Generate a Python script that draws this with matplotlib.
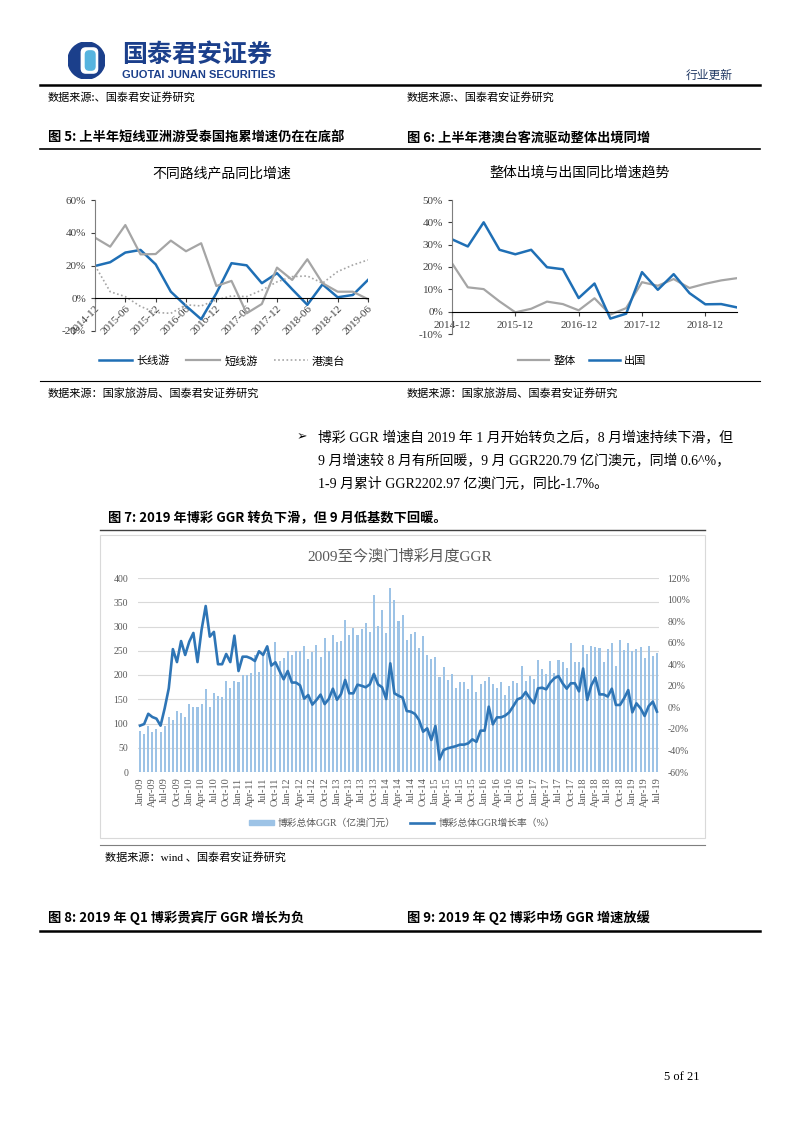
import matplotlib
matplotlib.use('Agg')
import matplotlib.pyplot as plt
import numpy as np
import pandas as pd
from matplotlib.lines import Line2D
from matplotlib.patches import Rectangle, Wedge, Patch, FancyBboxPatch

W, H = 802, 1133
SERIF = ['Liberation Serif', 'Noto Sans CJK SC']
CJK = ['Noto Sans CJK SC', 'DejaVu Sans']
plt.rcParams['font.family'] = SERIF

# ---- figure 5 data (quarterly yoy, %) ----
quarters5 = ['2014-12', '2015-03', '2015-06', '2015-09', '2015-12', '2016-03', '2016-06', '2016-09',
             '2016-12', '2017-03', '2017-06', '2017-09', '2017-12', '2018-03', '2018-06', '2018-09',
             '2018-12', '2019-03', '2019-06']
long_trip = [19.7, 22, 27.9, 29.5, 20.7, 4, -4.7, -12.8, 3, 21.4, 20.1, 9.2, 15.3, 5.5, -4, 8.5, 0.6, 2, 11.2]
short_trip = [37, 31.5, 44.7, 26.8, 27, 35.2, 28.7, 33.6, 7.5, 10.6, -9.2, -3.5, 18.7, 11.2, 23.8, 9.2, 4, 4, -0.6]
hk_macau_tw = [20, 4, 1, -5, -8.7, -9.2, -4, -4.7, -1, 1.4, 1, 5, 10, 13.2, 13.6, 9.2, 16.3, 20.3, 23.4]

# ---- figure 6 data (quarterly yoy, %) ----
quarters6 = quarters5
total_out = [21.7, 10.9, 10.1, 4.6, -0.3, 1.3, 4.5, 3.4, 0.6, 6, -1.3, 1.6, 13.2, 11.6, 14.6, 10.6, 12.5, 14, 15]
abroad = [32.4, 29.2, 40, 27.7, 25.7, 27.7, 19.9, 19, 6.1, 12.6, -3.1, -0.9, 17.7, 9.8, 16.8, 8.3, 3.3, 3.4, 1.9]

# ---- figure 7 data: monthly GGR (100m MOP) and yoy growth (%) ----
months7 = pd.date_range('2009-01-01', '2019-07-01', freq='MS').strftime('%b-%y').tolist()
ggr = [85, 79, 95, 83, 89, 82, 95, 113, 108, 126, 122, 113,
       140, 135, 135, 141, 172, 135, 163, 157, 154, 188, 174, 188,
       185, 199, 200, 204, 242, 207, 240, 245, 224, 268, 229, 235,
       250, 242, 250, 250, 260, 233, 247, 261, 238, 277, 249, 282,
       268, 271, 314, 282, 296, 282, 295, 307, 289, 365, 302, 335,
       287, 380, 354, 312, 323, 273, 284, 289, 256, 280, 242, 233,
       237, 195, 216, 190, 203, 173, 186, 185, 171, 200, 164, 182,
       188, 195, 181, 174, 185, 159, 178, 188, 183, 218, 188, 198,
       192, 230, 213, 202, 228, 205, 231, 226, 214, 267, 227, 227,
       262, 243, 259, 257, 255, 226, 253, 265, 219, 273, 251, 266,
       250, 254, 258, 236, 260, 239, 245]
growth = [-17, -15.5, -6, -9, -10.5, -17, -1, 17.6, 54, 42, 61.5, 48.6,
          61, 69, 42, 72, 94, 65.6, 70, 40, 40, 49.5, 42, 66.5,
          33.7, 47, 47, 45.5, 43, 52, 48.6, 56.6, 38.7, 41.8, 33.7, 26,
          33.7, 23, 23, 20.4, 8, 11.4, 2.5, 6.8, 11.8, 3, 7.7, 17.3,
          7, 12.4, 25.4, 13, 13, 21, 20, 18.6, 21.3, 31, 21.3, 18.6,
          7.7, 40.8, 13, 10.8, 9, -3.4, -4, -6.1, -11.7, -22.6, -19.5, -30.3,
          -17.3, -48.3, -39.6, -38, -37, -36, -34.6, -34.6, -33.4, -29.7, -32, -21.6,
          -21.6, 0.6, -15.8, -9.3, -9.3, -7.7, -4.6, 1.2, 7.4, 9, 14.2, 8.4,
          3.7, 17.6, 18.2, 16.7, 23, 27, 29, 22.3, 17.3, 22.3, 22.3, 14.8,
          36, 6.8, 20.4, 27.5, 12, 12, 10, 17.3, 2.2, 2.2, 8.4, 16,
          -4.6, 3.7, -0.9, -8, 1.2, 5.3, -4]

BLUE = '#1f6fb5'
GRAY = '#a5a5a5'
NAVY = '#1b3f8b'


def fx(x):
    return x / W


def fy(y):
    return 1 - y / H


def ftext(x, y, s, **kw):
    return fig.text(fx(x), fy(y), s, **kw)


def hline(y, x0, x1, lw=1.0, color='black'):
    fig.add_artist(Line2D([fx(x0), fx(x1)], [fy(y), fy(y)], lw=lw, color=color,
                          transform=fig.transFigure))


def style_line_axes(ax):
    for s in ['top', 'right']:
        ax.spines[s].set_visible(False)
    ax.spines['bottom'].set_position(('data', 0))
    ax.spines['bottom'].set_color('black')
    ax.spines['left'].set_color('#7f7f7f')
    ax.tick_params(axis='both', labelsize=8, colors='#404040', length=3, width=0.8)
    ax.patch.set_alpha(0)


fig = plt.figure(figsize=(W / 100, H / 100), dpi=100)

# ---- header ----
ax_logo = fig.add_axes([fx(68), fy(79), 37 / W, 37 / H])
ax_logo.set_xlim(0, 1)
ax_logo.set_ylim(0, 1)
ax_logo.axis('off')
ax_logo.add_patch(Wedge((0.5, 0.5), 0.5, 0, 360, color=NAVY))
ax_logo.add_patch(FancyBboxPatch((0.36, 0.16), 0.44, 0.68, boxstyle='round,pad=0,rounding_size=0.12',
                                 color='white'))
ax_logo.add_patch(FancyBboxPatch((0.47, 0.24), 0.26, 0.52, boxstyle='round,pad=0,rounding_size=0.1',
                                 color='#56b4df'))

ftext(122, 55, '国泰君安证券', family=CJK, fontsize=18, fontweight='bold', color=NAVY, va='center')
ftext(122, 75, 'GUOTAI JUNAN SECURITIES', family=['Liberation Sans'], fontsize=8, fontweight='bold',
      color=NAVY, va='center')
ftext(733, 75, '行业更新', family=CJK, fontsize=8.5, color='#203864', ha='right', va='center')
hline(85, 40, 760, lw=1.8)

ftext(48, 97, '数据来源:、国泰君安证券研究', family=CJK, fontsize=8, va='center')
ftext(407, 97, '数据来源:、国泰君安证券研究', family=CJK, fontsize=8, va='center')

ftext(48, 138, '图 5: 上半年短线亚洲游受泰国拖累增速仍在在底部', family=CJK, fontsize=9.5,
      fontweight='bold', va='center')
ftext(407, 138, '图 6: 上半年港澳台客流驱动整体出境同增', family=CJK, fontsize=9.5,
      fontweight='bold', va='center')
hline(149, 40, 760, lw=1.2)

# ---- figure 5 ----
ax5 = fig.add_axes([fx(95), fy(331), 273 / W, 131 / H])
x5 = np.arange(len(quarters5))
ax5.plot(x5, long_trip, color=BLUE, lw=1.8, label='长线游')
ax5.plot(x5, short_trip, color=GRAY, lw=1.6, label='短线游')
ax5.plot(x5, hk_macau_tw, color=GRAY, lw=1.2, ls=(0, (1, 1.5)), label='港澳台')
ax5.set_xlim(0, len(quarters5) - 1)
ax5.set_ylim(-20, 60)
ax5.set_yticks([-20, 0, 20, 40, 60])
ax5.set_yticklabels([f'{v}%' for v in [-20, 0, 20, 40, 60]])
ax5.set_xticks(x5[::2])
ax5.set_xticklabels(quarters5[::2])
style_line_axes(ax5)
ax5.tick_params(axis='x', pad=1)
plt.setp(ax5.get_xticklabels(), rotation=45, ha='right', va='top', rotation_mode='anchor')
ax5.legend(loc='center', bbox_to_anchor=(fx(222), fy(361)), bbox_transform=fig.transFigure,
           ncol=3, frameon=False, handlelength=3, columnspacing=1.5, handletextpad=0.4,
           prop={'family': CJK, 'size': 8})
ftext(222, 173, '不同路线产品同比增速', family=CJK, fontsize=10, ha='center', va='center')

# ---- figure 6 ----
ax6 = fig.add_axes([fx(452), fy(334), 285 / W, 134 / H])
x6 = np.arange(len(quarters6))
ax6.plot(x6, total_out, color=GRAY, lw=1.6, label='整体')
ax6.plot(x6, abroad, color=BLUE, lw=1.8, label='出国')
ax6.set_xlim(0, len(quarters6) - 1)
ax6.set_ylim(-10, 50)
ax6.set_yticks(range(-10, 51, 10))
ax6.set_yticklabels([f'{v}%' for v in range(-10, 51, 10)])
ax6.set_xticks(x6[::4])
ax6.set_xticklabels(quarters6[::4])
style_line_axes(ax6)
ax6.legend(loc='center', bbox_to_anchor=(fx(582), fy(361)), bbox_transform=fig.transFigure,
           ncol=2, frameon=False, handlelength=2.8, columnspacing=1.2, handletextpad=0.4,
           prop={'family': CJK, 'size': 8})
ftext(580, 173, '整体出境与出国同比增速趋势', family=CJK, fontsize=10, ha='center', va='center')

hline(381, 40, 760, lw=0.8)
ftext(48, 393, '数据来源：国家旅游局、国泰君安证券研究', family=CJK, fontsize=8, va='center')
ftext(407, 393, '数据来源：国家旅游局、国泰君安证券研究', family=CJK, fontsize=8, va='center')

# ---- bullet paragraph ----
ftext(297, 437, '➢', family=['DejaVu Sans'], fontsize=9, va='center')
para = ['博彩 GGR 增速自 2019 年 1 月开始转负之后，8 月增速持续下滑，但',
        '9 月增速较 8 月有所回暖，9 月 GGR220.79 亿门澳元，同增 0.6^%，',
        '1-9 月累计 GGR2202.97 亿澳门元，同比-1.7%。']
for k, line in enumerate(para):
    ftext(318, 437 + 23 * k, line, family=SERIF, fontsize=10, va='center')

ftext(108, 518, '图 7: 2019 年博彩 GGR 转负下滑，但 9 月低基数下回暖。', family=CJK, fontsize=9.5,
      fontweight='bold', va='center')
hline(530, 100, 705, lw=1.0, color='#404040')

# ---- figure 7 ----
fig.add_artist(Rectangle((fx(100), fy(838)), 605 / W, 303 / H, fill=False, edgecolor='#d9d9d9',
                         lw=0.8, transform=fig.transFigure))
ftext(400, 556, '2009至今澳门博彩月度GGR', family=SERIF, fontsize=11, color='#595959',
      ha='center', va='center')

ax7 = fig.add_axes([fx(138), fy(772), 521 / W, 194 / H])
x7 = np.arange(len(months7))
ax7.bar(x7, ggr, width=0.5, color='#9dc3e6', zorder=2)
ax7.set_xlim(-0.5, len(months7) - 0.5)
ax7.set_ylim(0, 400)
ax7.set_yticks(range(0, 401, 50))
ax7.grid(axis='y', color='#d9d9d9', lw=0.8)
ax7.set_axisbelow(True)
ax7.set_xticks(x7[::3])
ax7.set_xticklabels(months7[::3])
for s in ax7.spines.values():
    s.set_visible(False)
ax7.tick_params(axis='both', length=0, labelsize=7, colors='#595959')
ax7.tick_params(axis='y', pad=7)
ax7.tick_params(axis='x', pad=4, labelsize=7.5)
plt.setp(ax7.get_xticklabels(), rotation=90)

axr = ax7.twinx()
axr.plot(x7, growth, color='#2e75b6', lw=1.9, zorder=3)
axr.set_ylim(-60, 120)
axr.set_yticks(range(-60, 121, 20))
axr.set_yticklabels([f'{v}%' for v in range(-60, 121, 20)])
for s in axr.spines.values():
    s.set_visible(False)
axr.tick_params(axis='both', length=0, labelsize=7, colors='#595959', pad=6)

handles = [Patch(color='#9dc3e6'), Line2D([], [], color='#2e75b6', lw=1.9)]
fig.legend(handles, ['博彩总体GGR（亿澳门元）', '博彩总体GGR增长率（%）'], loc='center',
           bbox_to_anchor=(fx(402), fy(823)), ncol=2, frameon=False, handlelength=2.5,
           handleheight=0.5, columnspacing=1.5, handletextpad=0.4, labelcolor='#595959',
           prop={'family': SERIF, 'size': 7})

hline(845, 100, 705, lw=0.8, color='#7f7f7f')
ftext(105, 857, '数据来源：wind 、国泰君安证券研究', family=SERIF, fontsize=8, va='center')

ftext(48, 918, '图 8: 2019 年 Q1 博彩贵宾厅 GGR 增长为负', family=CJK, fontsize=9.5,
      fontweight='bold', va='center')
ftext(407, 918, '图 9: 2019 年 Q2 博彩中场 GGR 增速放缓', family=CJK, fontsize=9.5,
      fontweight='bold', va='center')
hline(931, 40, 760, lw=1.8)

ftext(700, 1077, '5 of 21', family=SERIF, fontsize=9, ha='right', va='center')

fig.savefig('out.png', dpi=100)
